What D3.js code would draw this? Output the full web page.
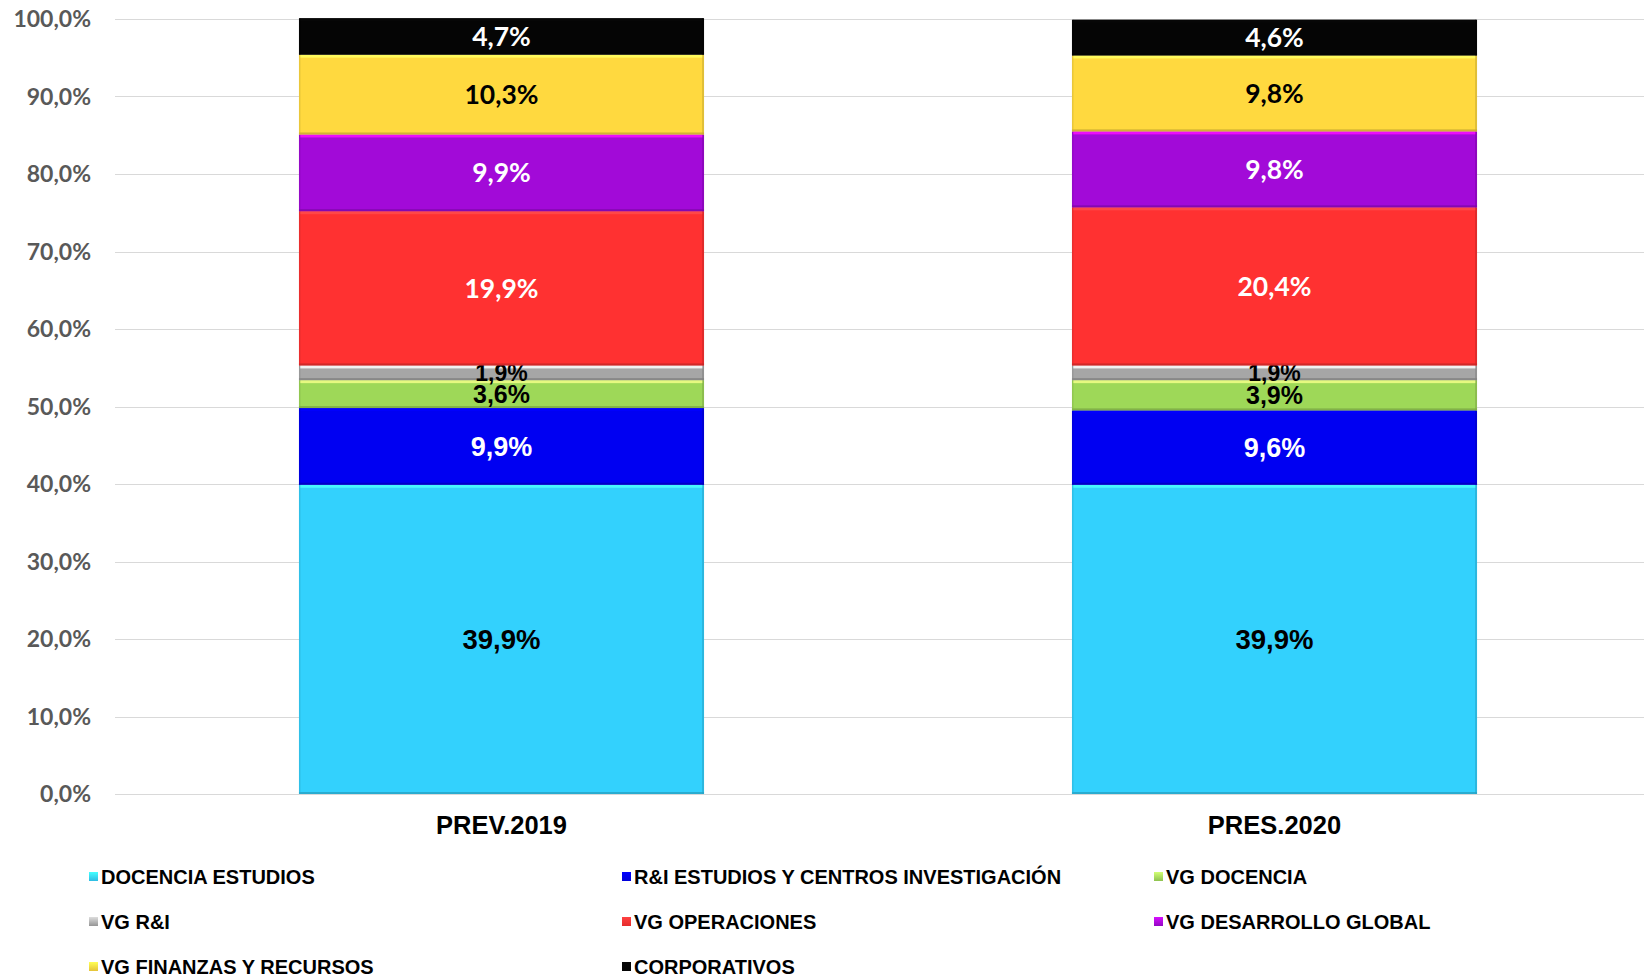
<!DOCTYPE html>
<html>
<head>
<meta charset="utf-8">
<script src="https://cdn.jsdelivr.net/npm/d3@7"></script>
<style>
  body { margin: 0; background: #fff; }
  svg { display: block; }
</style>
</head>
<body>
<div class="chart"></div>
<script>
// data
var categories = ["PREV.2019", "PRES.2020"];
var seriesNames = [
  "DOCENCIA ESTUDIOS",
  "R&I ESTUDIOS Y CENTROS INVESTIGACIÓN",
  "VG DOCENCIA",
  "VG R&I",
  "VG OPERACIONES",
  "VG DESARROLLO GLOBAL",
  "VG FINANZAS Y RECURSOS",
  "CORPORATIVOS"
];
var prev2019 = [39.9, 9.9, 3.6, 1.9, 19.9, 9.9, 10.3, 4.7];
var pres2020 = [39.9, 9.6, 3.9, 1.9, 20.4, 9.8, 9.8, 4.6];
var yTicks = [0, 10, 20, 30, 40, 50, 60, 70, 80, 90, 100];

// styles
var colors = ["#33d1fd", "#0000f2", "#9ed858", "#a6a6a6", "#ff3131", "#a20ad8", "#ffd93f", "#050505"];
var labelColors = ["#000", "#fff", "#000", "#000", "#fff", "#fff", "#000", "#fff"];
var arialFont = "'Liberation Sans', Arial, sans-serif";
var calibriFont = "Lato, 'Open Sans', sans-serif";
var labelFonts = [arialFont, arialFont, arialFont, arialFont, calibriFont, calibriFont, calibriFont, calibriFont];
var labelSizes = [27.5, 27, 25, 23, 26.5, 26.5, 26.5, 26.5];

var svgWidth = 1644;
var svgHeight = 978;

var svg = d3.select(".chart")
  .append("svg")
  .attr("width", svgWidth)
  .attr("height", svgHeight);

var yScale = d3.scaleLinear()
  .domain([0, 100])
  .range([794, 19]);

var xScale = d3.scaleBand()
  .domain(categories)
  .range([115, 1661])
  .paddingInner(0.476)
  .paddingOuter(0.238);

// gridlines
svg.append("g")
  .selectAll("line")
  .data(yTicks)
  .enter()
  .append("line")
  .attr("x1", 115)
  .attr("x2", svgWidth)
  .attr("y1", d => Math.round(yScale(d)) + 0.5)
  .attr("y2", d => Math.round(yScale(d)) + 0.5)
  .attr("stroke", "#d9d9d9")
  .attr("stroke-width", 1);

// y tick labels
var fmtPct = d => d3.format(".1f")(d).replace(".", ",") + "%";
svg.append("g")
  .selectAll("text")
  .data(yTicks)
  .enter()
  .append("text")
  .attr("x", 91)
  .attr("y", d => yScale(d))
  .attr("dy", "0.36em")
  .attr("text-anchor", "end")
  .style("font-family", calibriFont)
  .style("font-weight", "bold")
  .style("font-size", "23px")
  .style("fill", "#595959")
  .text(fmtPct);

// stacked segments
var rows = categories.map(function (c, i) {
  var vals = i === 0 ? prev2019 : pres2020;
  var row = { category: c };
  seriesNames.forEach((s, j) => row[s] = vals[j]);
  return row;
});
var stacked = d3.stack().keys(seriesNames)(rows);

var defs = svg.append("defs");
colors.forEach(function (c, i) {
  var g = defs.append("linearGradient")
    .attr("id", "mk" + i)
    .attr("x1", 0).attr("y1", 0).attr("x2", 0).attr("y2", 1);
  g.append("stop").attr("offset", "0%").attr("stop-color", d3.color(c).brighter(0.8));
  g.append("stop").attr("offset", "100%").attr("stop-color", d3.color(c).darker(0.3));
});

var layers = svg.append("g")
  .selectAll("g")
  .data(stacked)
  .enter()
  .append("g");

layers.each(function (layer, i) {
  var g = d3.select(this);
  var col = colors[i];
  layer.forEach(function (d) {
    var x = xScale(d.data.category);
    var w = xScale.bandwidth();
    var y0 = yScale(d[1]);
    var y1 = yScale(d[0]);
    g.append("rect")
      .attr("x", x)
      .attr("y", y0)
      .attr("width", w)
      .attr("height", y1 - y0)
      .attr("fill", col);
    // bevel: light top edge, dark bottom edge, shaded sides
    g.append("rect")
      .attr("x", x + 1)
      .attr("y", y0)
      .attr("width", w - 2)
      .attr("height", 3)
      .attr("fill", d3.color(col).brighter(1.2))
      .attr("opacity", 0.85);
    g.append("rect")
      .attr("x", x)
      .attr("y", y1 - 2)
      .attr("width", w)
      .attr("height", 2)
      .attr("fill", d3.color(col).darker(0.9))
      .attr("opacity", 0.65);
    g.append("rect")
      .attr("x", x + w - 2)
      .attr("y", y0)
      .attr("width", 2)
      .attr("height", y1 - y0)
      .attr("fill", d3.color(col).darker(0.7))
      .attr("opacity", 0.55);
    g.append("rect")
      .attr("x", x)
      .attr("y", y0)
      .attr("width", 1.5)
      .attr("height", y1 - y0)
      .attr("fill", d3.color(col).darker(0.5))
      .attr("opacity", 0.5);
  });
});

// data labels
layers.each(function (layer, i) {
  d3.select(this)
    .selectAll("text")
    .data(layer)
    .enter()
    .append("text")
    .attr("x", d => xScale(d.data.category) + xScale.bandwidth() / 2)
    .attr("y", d => yScale((d[0] + d[1]) / 2))
    .attr("dy", "0.36em")
    .attr("text-anchor", "middle")
    .style("font-family", labelFonts[i])
    .style("font-weight", "bold")
    .style("font-size", labelSizes[i] + "px")
    .style("fill", labelColors[i])
    .text(d => fmtPct(d[1] - d[0]));
});

// category labels
svg.append("g")
  .selectAll("text")
  .data(categories)
  .enter()
  .append("text")
  .attr("x", d => xScale(d) + xScale.bandwidth() / 2)
  .attr("y", 825)
  .attr("dy", "0.36em")
  .attr("text-anchor", "middle")
  .style("font-family", arialFont)
  .style("font-weight", "bold")
  .style("font-size", "25.5px")
  .style("fill", "#000")
  .text(d => d);

// legend
var legendCols = [89, 622, 1154];
var legendRows = [877, 922, 967];
var legend = svg.append("g")
  .selectAll("g")
  .data(seriesNames)
  .enter()
  .append("g")
  .attr("transform", (d, i) => `translate(${legendCols[i % 3]}, ${legendRows[Math.floor(i / 3)]})`);

legend.append("rect")
  .attr("x", 0)
  .attr("y", -5)
  .attr("width", 9)
  .attr("height", 9)
  .attr("fill", (d, i) => `url(#mk${i})`);

legend.append("text")
  .attr("x", 12)
  .attr("y", 0)
  .attr("dy", "0.36em")
  .style("font-family", arialFont)
  .style("font-weight", "bold")
  .style("font-size", "20px")
  .style("fill", "#000")
  .text(d => d);
</script>
</body>
</html>
